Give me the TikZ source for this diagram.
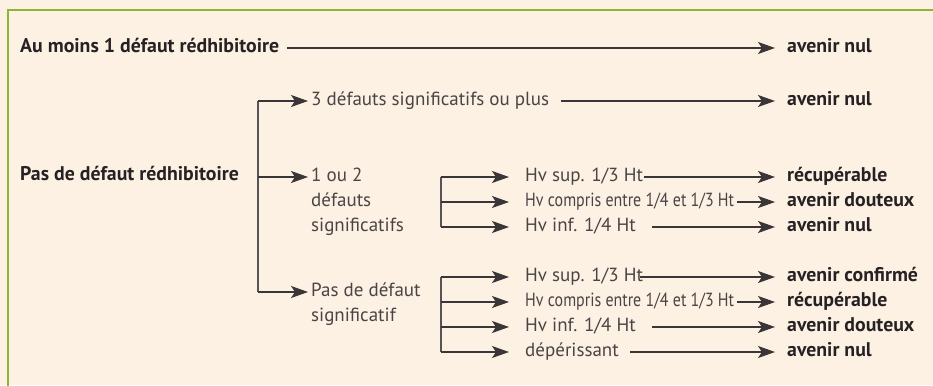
\documentclass[tikz,border=0pt]{standalone}
\usepackage{fontspec}
\setmainfont{PT Sans}
\usetikzlibrary{arrows.meta}
\definecolor{bg}{HTML}{FDF1E4}
\definecolor{frame}{HTML}{8DB534}
\definecolor{txt}{HTML}{4A4445}
\definecolor{dark}{HTML}{262223}
\definecolor{ln}{HTML}{3A3536}
\tikzset{
  lab/.style={anchor=west, inner sep=0pt, text=txt, text height=13.5pt, text depth=4pt,
    font=\fontsize{19}{22}\selectfont},
  res/.style={anchor=west, inner sep=0pt, text=dark, text height=13.5pt, text depth=4pt,
    font=\fontsize{19.8}{22}\selectfont\bfseries},
  arr/.style={draw=ln, line width=1.2pt, -{Stealth[length=17pt,width=12pt,inset=4pt]}},
  branch/.style={draw=ln!85, line width=1.4pt},
}
\begin{document}
\begin{tikzpicture}[x=1pt,y=-1pt]
\fill[bg] (0,0) rectangle (933,385);
\useasboundingbox (0,0) rectangle (933,385);
\draw[frame, line width=2.5pt] (8,386) -- (8,10) -- (934,10);

% left labels
\node[res] (r1) at (20,48) {Au moins 1 défaut rédhibitoire};
\node[res] (r2) at (20,176) {Pas de défaut rédhibitoire};

% level 1 texts
\node[lab] (d3) at (311,101) {3 défauts significatifs ou plus};
\node[lab] (d12) at (311,177) {1 ou 2};
\node[lab] (d12b) at (311,202) {défauts};
\node[lab] (d12c) at (311,227) {significatifs};
\node[lab] (d0) at (311,292) {Pas de défaut};
\node[lab] (d0b) at (311,317) {significatif};

% level 2 texts (group 1)
\node[lab] (h1) at (525,177) {Hv sup. 1/3 Ht};
\node[lab] (h2) at (525,202) {\scalebox{0.84}[1]{Hv compris entre 1/4 et 1/3 Ht}};
\node[lab] (h3) at (525,227) {Hv inf. 1/4 Ht};
% level 2 texts (group 2)
\node[lab] (k1) at (525,277) {Hv sup. 1/3 Ht};
\node[lab] (k2) at (525,302) {\scalebox{0.84}[1]{Hv compris entre 1/4 et 1/3 Ht}};
\node[lab] (k3) at (525,327) {Hv inf. 1/4 Ht};
\node[lab] (k4) at (525,352) {dépérissant};

% outcomes
\node[res] (o1) at (787,48) {avenir nul};
\node[res] (o2) at (787,101) {avenir nul};
\node[res] (o3) at (787,177) {récupérable};
\node[res] (o4) at (787,202) {avenir douteux};
\node[res] (o5) at (787,227) {avenir nul};
\node[res] (o6) at (787,277) {avenir confirmé};
\node[res] (o7) at (787,302) {récupérable};
\node[res] (o8) at (787,327) {avenir douteux};
\node[res] (o9) at (787,352) {avenir nul};

% branch points
\coordinate (b1) at (258,0);
\coordinate (b2) at (441,0);

\draw[branch] (b1 |- d3.west) -- (b1 |- d0.west);
\draw[branch] (b2 |- h1.west) -- (b2 |- h3.west);
\draw[branch] (b2 |- k1.west) -- (b2 |- k4.west);

\draw[arr] (b1 |- d3.west) -- ([xshift=-3pt]d3.west);
\draw[arr] (b1 |- d12.west) -- ([xshift=-3pt]d12.west);
\draw[arr] (b1 |- d0.west) -- ([xshift=-3pt]d0.west);

\foreach \n in {h1,h2,h3,k1,k2,k3,k4}
  \draw[arr] (b2 |- \n.west) -- ([xshift=-16pt]\n.west);

% outcome arrows
\draw[arr] ([xshift=8pt]r1.east) -- ([xshift=-12pt]o1.west);
\draw[arr] ([xshift=12pt]d3.east) -- ([xshift=-12pt]o2.west);
\draw[arr] ([xshift=1pt]h1.east) -- ([xshift=-12pt]o3.west);
\draw[arr] ([xshift=3pt]h2.east) -- ([xshift=-12pt]o4.west);
\draw[arr] ([xshift=16pt]h3.east) -- ([xshift=-12pt]o5.west);
\draw[arr] ([xshift=-3pt]k1.east) -- ([xshift=-12pt]o6.west);
\draw[arr] ([xshift=3pt]k2.east) -- ([xshift=-12pt]o7.west);
\draw[arr] ([xshift=16pt]k3.east) -- ([xshift=-12pt]o8.west);
\draw[arr] ([xshift=11pt]k4.east) -- ([xshift=-12pt]o9.west);
\end{tikzpicture}
\end{document}
